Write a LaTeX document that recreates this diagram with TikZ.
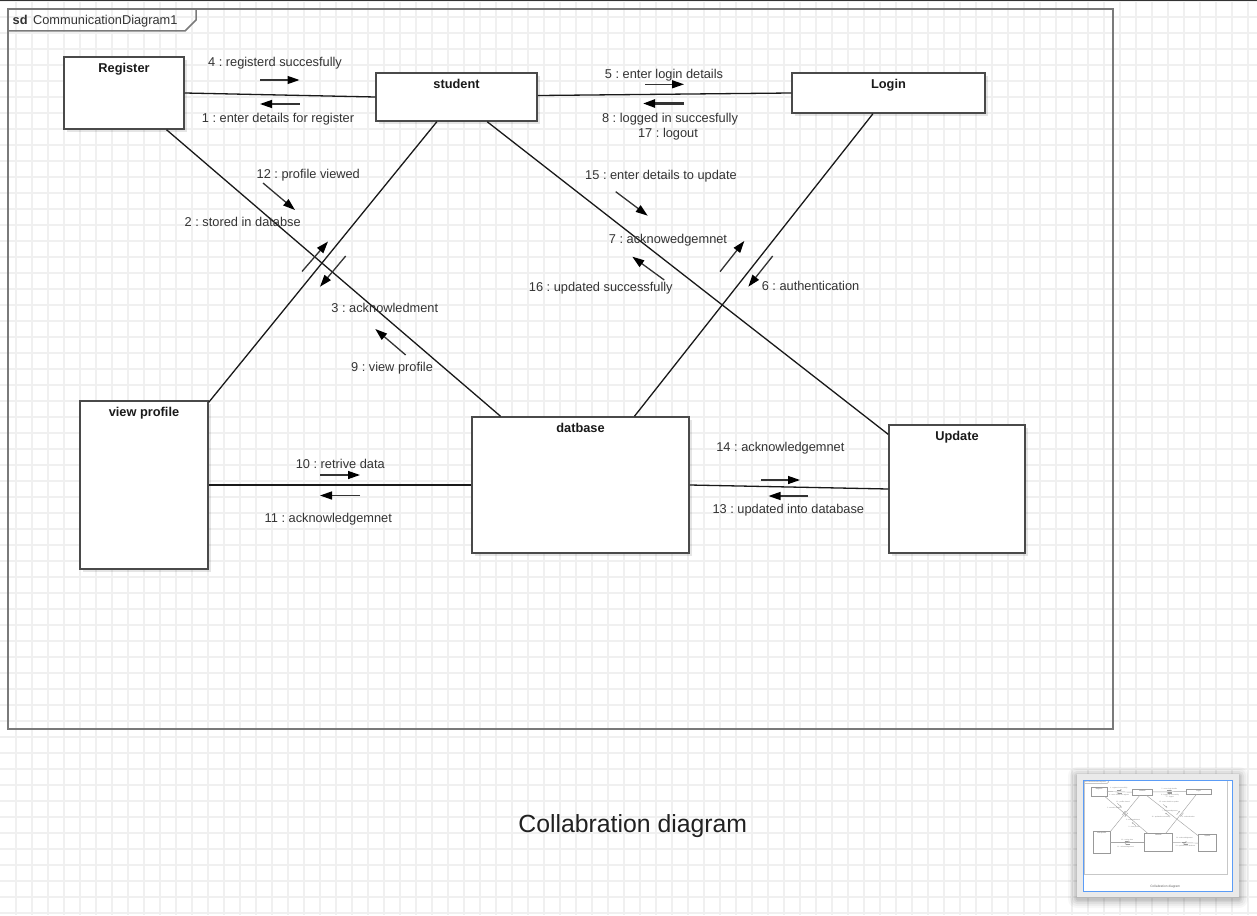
\documentclass[tikz,border=0pt]{standalone}
\usepackage{fontspec}
\setmainfont{Liberation Sans}
\frenchspacing
\usetikzlibrary{arrows.meta,calc,shadows}
\definecolor{gridc}{HTML}{F0F0F0}
\definecolor{boxc}{HTML}{4A4A4A}
\definecolor{framec}{HTML}{7A7A7A}
\definecolor{lblc}{HTML}{333333}
\definecolor{titc}{HTML}{1A1A1A}
\definecolor{msgc}{HTML}{333333}
\definecolor{bluec}{HTML}{5B9CF6}
\definecolor{panelc}{HTML}{EAEAEA}
\newcommand\lblfont{\fontsize{12.8pt}{15.6pt}\selectfont}
\newcommand\capfont{\fontsize{24.8pt}{30pt}\selectfont}
\tikzset{
  box/.style={draw=boxc, line width=1.5pt, fill=white, inner sep=0pt,
    drop shadow={shadow xshift=3pt, shadow yshift=-3pt, opacity=0.10, fill=black}},
  ttl/.style={font=\lblfont\bfseries, text=titc, anchor=base, inner sep=0pt},
  lbl/.style={font=\lblfont, text=lblc, anchor=base, inner sep=0pt},
  conn/.style={draw=black!90, line width=1.3pt},
  msg/.style={draw=msgc, line width=1.3pt, -{Triangle[length=12pt,width=8pt,color=black]}},
  frm/.style={draw=framec, line width=1.5pt},
  captn/.style={font=\capfont, text=black!87, inner sep=0pt, anchor=base},
}
\newcommand\drawdiagram{%
  % frame
  \draw[frm] (8,9) rectangle (1113,729);
  \draw[frm] (8,9) -- (196,9) -- (196,20) -- (185,31) -- (8,31) -- cycle;
  \node[lbl, anchor=base west] (sdlbl) at (12.5,24.9) {\textbf{sd}\hspace{5.5pt}CommunicationDiagram1};
  % objects
  \node[box, minimum width=120pt, minimum height=72pt] (reg) at (124,93) {};
  \node[box, minimum width=161pt, minimum height=48pt] (stu) at (456.5,97) {};
  \node[box, minimum width=193pt, minimum height=40pt] (login) at (888.5,93) {};
  \node[box, minimum width=128pt, minimum height=168pt] (vp) at (144,485) {};
  \node[box, minimum width=217pt, minimum height=136pt] (db) at (580.5,485) {};
  \node[box, minimum width=136pt, minimum height=128pt] (upd) at (957,489) {};
  \node[ttl] (regt) at ($(reg.north)+(0,16.6)$) {Register};
  \node[ttl] (stut) at ($(stu.north)+(0,16.6)$) {student};
  \node[ttl] (logint) at ($(login.north)+(0,16.6)$) {Login};
  \node[ttl] (vpt) at ($(vp.north)+(0,16.6)$) {view profile};
  \node[ttl] (dbt) at ($(db.north)+(0,16.6)$) {datbase};
  \node[ttl] (updt) at ($(upd.north)+(0,16.6)$) {Update};
  % links
  \draw[conn] (reg.east) -- ($(stu.north west)!0.5!(stu.south west)$);
  \draw[conn] ($(stu.north east)!0.47!(stu.south east)$) -- ($(login.north west)!0.5!(login.south west)$);
  \draw[conn] ($(reg.south west)!0.85!(reg.south east)$) -- ($(db.north west)!0.134!(db.north east)$);
  \draw[conn] ($(stu.south west)!0.379!(stu.south east)$) -- ($(vp.north east)!0.012!(vp.south east)$);
  \draw[conn] ($(stu.south west)!0.689!(stu.south east)$) -- ($(upd.north west)!0.078!(upd.south west)$);
  \draw[conn] ($(login.south west)!0.42!(login.south east)$) -- ($(db.north west)!0.747!(db.north east)$);
  \draw[conn] (vp.east) -- (db.west);
  \draw[conn] (db.east) -- (upd.west);
  % messages
  \draw[msg] (260,80) -- (299.5,80);
  \draw[msg] (299.5,104) -- (260,104);
  \draw[msg] (645,84.3) -- (684,84.3);
  \draw[msg, line width=2.4pt] (684,103.5) -- (643,103.5);
  \draw[msg] (263,183) -- (295,210);
  \draw[msg] (302,271.5) -- (328,241.5);
  \draw[msg] (345.7,256) -- (320,286.7);
  \draw[msg] (405.7,355) -- (375.3,329);
  \draw[msg] (615.7,191.7) -- (647.7,215.7);
  \draw[msg] (720,271.7) -- (744.3,241);
  \draw[msg] (772.7,256) -- (748.3,286.7);
  \draw[msg] (664.3,280) -- (632.3,256.7);
  \draw[msg] (320,475) -- (360,475);
  \draw[msg] (360,495.5) -- (320,495.5);
  \draw[msg] (761,480) -- (800,480);
  \draw[msg] (808,496) -- (768.5,496);
  % message labels
  \node[lbl] (m4) at (275,66.3) {4 : registerd succesfully};
  \node[lbl] (m1) at (278,122.9) {1 : enter details for register};
  \node[lbl] (m5) at (664,78.9) {5 : enter login details};
  \node[lbl] (m8) at (670,122.3) {8 : logged in succesfully};
  \node[lbl] (m17) at (668,137.9) {17 : logout};
  \node[lbl] (m12) at (308.3,178.9) {12 : profile viewed};
  \node[lbl] (m2) at (242.7,226.3) {2 : stored in databse};
  \node[lbl] (m3) at (384.8,312.9) {3 : acknowledment};
  \node[lbl] (m9) at (392,371.9) {9 : view profile};
  \node[lbl] (m15) at (661,179.3) {15 : enter details to update};
  \node[lbl] (m7) at (668,243.3) {7 : acknowedgemnet};
  \node[lbl] (m16) at (600.8,291.3) {16 : updated successfully};
  \node[lbl] (m6) at (810.5,290.3) {6 : authentication};
  \node[lbl] (m10) at (340.3,468.6) {10 : retrive data};
  \node[lbl] (m11) at (328.3,522.9) {11 : acknowledgemnet};
  \node[lbl] (m14) at (780.4,451.3) {14 : acknowledgemnet};
  \node[lbl] (m13) at (788.3,513.9) {13 : updated into database};
  % caption
  \node[captn] (cap) at (632.8,832.6) {Collabration diagram};
}
\begin{document}
\begin{tikzpicture}[x=1pt,y=-1pt]
  \path[use as bounding box, fill=white] (0,0) rectangle (1257,915);
  % grid
  \foreach \gx in {16,32,...,1248} \draw[gridc, line width=1.1pt] (\gx,0) -- (\gx,915);
  \foreach \gy in {1,17,...,913} \draw[gridc, line width=1.1pt] (0,\gy) -- (1257,\gy);
  \fill[black!80] (0,0) rectangle (1257,1.3);
  \drawdiagram
  % outline thumbnail with soft shadow
  \foreach \s/\o in {9/0.03,7/0.04,5/0.05,3/0.06,1.5/0.07}
    \fill[black, opacity=\o, rounded corners=\s pt] (1077-\s,774-\s+2) rectangle (1239+\s,897+\s+2);
  \fill[panelc] (1077,774) rectangle (1239,897);
  \fill[white] (1083.3,780.7) rectangle (1232.7,891);
  \begin{scope}[name prefix=t-, shift={(1083,779.5)}, scale=0.13, transform shape,
      box/.style={draw=black!40, line width=0.7pt, fill=white, inner sep=0pt},
      conn/.style={draw=black!35, line width=0.45pt},
      msg/.style={draw=black!40, line width=0.3pt, -{Triangle[length=1.5pt,width=1pt]}},
      frm/.style={draw=black!22, line width=0.8pt},
      lbl/.style={font=\lblfont, text=black!50, anchor=base, inner sep=0pt},
      ttl/.style={font=\lblfont\bfseries, text=black!50, anchor=base, inner sep=0pt},
      captn/.style={font=\capfont, text=black!60, inner sep=0pt, anchor=base}]
    \drawdiagram
  \end{scope}
  \draw[bluec, line width=1pt] (1083.3,780.7) rectangle (1232.7,891);
\end{tikzpicture}
\end{document}
